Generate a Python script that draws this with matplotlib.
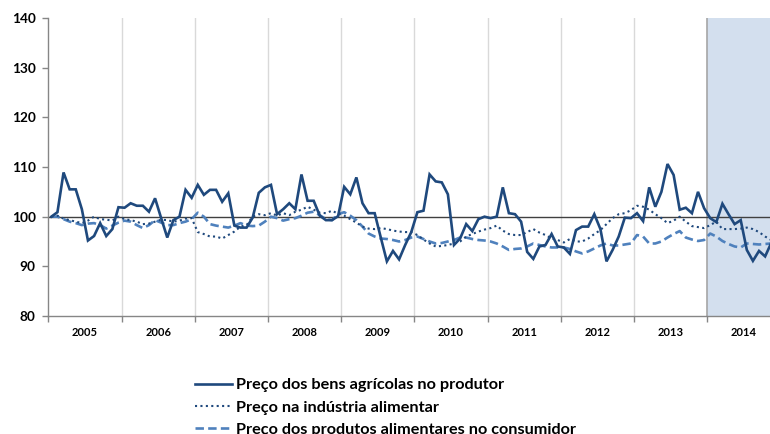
import numpy as np
import matplotlib
matplotlib.use("Agg")
import matplotlib.pyplot as plt

# monthly index values, Jan 2005 - Nov 2014
produtor = [100.0, 100.9, 108.9, 105.5, 105.5, 101.5, 95.2, 96.1, 98.7, 96.1, 97.5, 101.9,
            101.8, 102.7, 102.2, 102.2, 101.0, 103.7, 99.7, 95.8, 99.3, 100.0, 105.4, 103.8,
            106.4, 104.4, 105.4, 105.4, 103.0, 104.7, 98.2, 97.8, 97.8, 99.8, 104.8, 105.9,
            106.4, 100.5, 101.5, 102.7, 101.5, 108.5, 103.2, 103.2, 100.2, 99.3, 99.3, 100.1,
            106.0, 104.5, 107.9, 102.7, 100.7, 100.7, 95.8, 91.0, 93.1, 91.4, 94.3, 96.9,
            100.9, 101.2, 108.5, 107.1, 106.9, 104.5, 94.3, 95.6, 98.5, 97.1, 99.5, 100.0,
            99.7, 100.0, 105.9, 100.7, 100.5, 99.0, 92.9, 91.5, 94.0, 94.3, 96.5, 94.0,
            93.8, 92.5, 97.3, 98.0, 98.0, 100.5, 97.5, 91.0, 93.3, 96.0, 99.8, 99.7,
            100.7, 99.1, 105.9, 102.0, 105.0, 110.6, 108.4, 101.4, 101.8, 100.7, 105.0, 101.7,
            99.7, 98.9, 102.6, 100.5, 98.5, 99.3, 93.3, 91.1, 93.1, 92.0, 94.7]

industria = [100.0, 100.2, 99.6, 99.3, 99.0, 98.7, 99.2, 100.0, 99.5, 99.4, 99.2, 100.0,
             99.5, 99.3, 99.0, 98.5, 98.6, 99.0, 99.4, 99.3, 99.0, 99.2, 99.6, 99.7,
             96.9, 96.5, 96.0, 96.0, 95.6, 96.3, 97.0, 98.0, 98.3, 100.0, 100.5, 100.3,
             100.7, 100.2, 100.7, 100.3, 101.0, 101.4, 102.0, 101.4, 100.8, 100.7, 101.2, 100.6,
             100.2, 99.5, 98.8, 98.0, 97.6, 97.5, 97.7, 97.5, 97.2, 97.0, 96.9, 96.9,
             96.3, 95.4, 94.6, 94.0, 94.1, 94.3, 94.6, 95.0, 96.0, 96.5, 97.0, 97.4,
             97.7, 98.2, 97.2, 96.5, 96.3, 96.3, 96.9, 97.5, 96.8, 96.3, 95.6, 95.3,
             94.8, 95.5, 95.0, 95.0, 95.6, 96.5, 97.3, 98.5, 99.7, 100.5, 100.7, 101.3,
             102.2, 102.0, 101.4, 100.5, 99.7, 98.7, 99.2, 100.0, 99.0, 98.1, 97.9, 97.7,
             98.3, 99.0, 97.5, 97.5, 97.5, 97.6, 97.8, 97.5, 96.9, 96.0, 95.3]

consumidor = [100.0, 100.0, 99.5, 99.0, 98.7, 98.3, 98.6, 98.7, 98.3, 97.6, 98.2, 98.8,
              99.2, 99.0, 98.3, 97.7, 98.3, 99.3, 98.8, 98.3, 98.3, 98.7, 99.0, 99.5,
              100.8, 100.0, 98.5, 98.2, 98.0, 97.8, 98.2, 98.7, 98.2, 98.1, 98.2, 99.0,
              100.0, 99.7, 99.2, 99.5, 99.7, 100.2, 100.8, 101.0, 100.3, 99.5, 99.3, 100.5,
              100.9, 100.2, 99.3, 98.0, 96.6, 96.0, 95.6, 95.5, 95.3, 95.0, 95.3, 95.8,
              96.0, 95.5, 95.0, 94.6, 94.7, 95.0, 95.3, 95.8, 95.8, 95.5, 95.3, 95.2,
              95.0, 94.6, 94.0, 93.3, 93.5, 93.6, 94.0, 94.6, 94.3, 94.0, 93.8, 93.8,
              93.8, 93.5, 93.0, 92.6, 93.0, 93.6, 94.2, 94.6, 94.2, 94.2, 94.4, 94.6,
              96.3, 96.0, 94.6, 94.6, 95.0, 95.8, 96.5, 97.1, 95.8, 95.4, 95.1, 95.3,
              96.6, 96.0, 95.1, 94.5, 94.0, 93.8, 94.6, 94.5, 94.4, 94.5, 94.6]

anos = ['2005', '2006', '2007', '2008', '2009', '2010', '2011', '2012', '2013', '2014']
labels = ['Preço dos bens agrícolas no produtor',
          'Preço na indústria alimentar',
          'Preço dos produtos alimentares no consumidor']

plt.rcParams['font.family'] = ['Lato', 'DejaVu Sans']

fig = plt.figure(figsize=(7.70, 4.34), dpi=100)
ax = fig.add_axes([48.3 / 770, 1 - 316 / 434, 1 - 48.3 / 770, (316 - 18) / 434])

x = np.arange(len(produtor)) + 0.5
xmax = 118.3

# shaded projection period
ax.axvspan(108, xmax, facecolor='#D3DFEE', edgecolor='none', zorder=0)
ax.axvline(108, color='#A6A6A6', lw=1.2, zorder=1)

# year gridlines
for k in range(12, 108, 12):
    ax.axvline(k, color='#D9D9D9', lw=1.0, zorder=1)

ax.axhline(100, color='#404040', lw=1.0, zorder=2)

l1, = ax.plot(x, produtor, color='#1F497D', lw=1.9, zorder=5, solid_joinstyle='miter')
l2, = ax.plot(x, industria, color='#1F497D', lw=1.5, ls=(0, (1, 1.6)), zorder=4)
l3, = ax.plot(x, consumidor, color='#4F81BD', lw=1.9, ls=(0, (3.2, 1.6)), zorder=3)

ax.set_xlim(0, xmax)
ax.set_ylim(80, 140)
ax.set_yticks(range(80, 141, 10))
ax.set_xticks(range(0, 109, 12))
ax.set_xticklabels([])
ax.set_xticks([k + 6 for k in range(0, 109, 12)], minor=True)
ax.set_xticklabels(anos, minor=True)
ax.tick_params(axis='x', which='minor', length=0, pad=8, labelsize=8)
ax.tick_params(axis='x', which='major', length=4, color='#868686', width=1)
ax.tick_params(axis='y', length=4, color='#868686', width=1, labelsize=9.8, pad=5)
for lab in ax.get_yticklabels() + ax.get_xticklabels(minor=True):
    lab.set_fontweight('bold')

for s in ['top', 'right']:
    ax.spines[s].set_visible(False)
for s in ['left', 'bottom']:
    ax.spines[s].set_color('#868686')
    ax.spines[s].set_linewidth(1)

fig.legend([l1, l2, l3], labels, loc='upper left', bbox_to_anchor=(195 / 770, 1 - 378 / 434),
           frameon=False, prop={'weight': 'bold', 'size': 11.7}, handlelength=2.3,
           handletextpad=0.2, labelspacing=0.48, borderaxespad=0, borderpad=0)

fig.savefig('out.png', dpi=100)
